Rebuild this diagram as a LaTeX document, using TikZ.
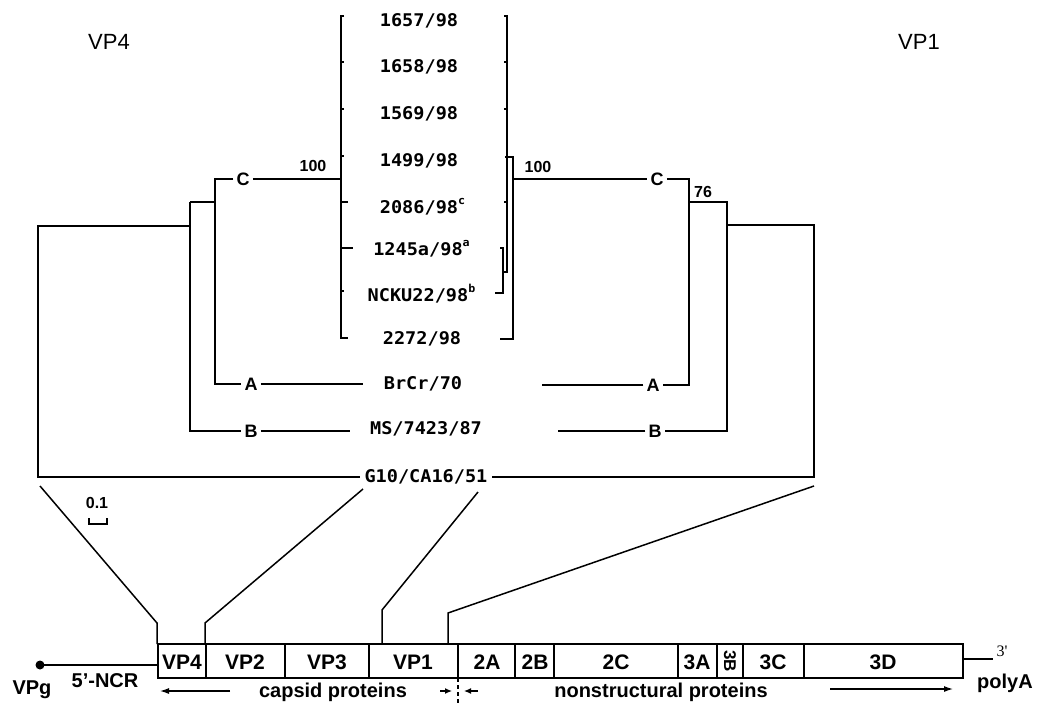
\documentclass[tikz,border=0pt]{standalone}
\usepackage{fontspec}
\setmainfont{Liberation Sans}
\newfontfamily\monofont[FakeStretch=1.06]{DejaVu Sans Mono}
\newfontfamily\seriffont{Liberation Serif}
\usetikzlibrary{arrows.meta}
\newcommand{\supx}[1]{\rlap{\raisebox{0.5em}{\fontsize{11}{11}\selectfont\bfseries #1}}}
\begin{document}
\begin{tikzpicture}[x=1pt,y=-1pt, line width=1.5pt,
  strain/.style={font=\monofont\bfseries\fontsize{17.5}{19}\selectfont, inner sep=0pt},
  clade/.style={font=\bfseries\fontsize{18}{20}\selectfont, inner sep=2.5pt},
  boot/.style={font=\bfseries\fontsize{16}{18}\selectfont, inner sep=0pt},
  gene/.style={font=\bfseries\fontsize{21}{23}\selectfont, inner sep=0pt},
  glabel/.style={font=\bfseries\fontsize{20}{22}\selectfont, inner sep=0pt},
  title/.style={font=\fontsize{22}{24}\selectfont, inner sep=0pt},
  arr/.style={-{Latex[length=9pt,width=6pt]}, line width=1.2pt},
  thin/.style={line width=1.2pt}]
\useasboundingbox[fill=white] (0,0) rectangle (1042,705);

% titles
\node[title] (tVP4) at (109,42) {VP4};
\node[title] (tVP1) at (919,42) {VP1};

% strain labels
\node[strain] (s1) at (419,21) {1657/98};
\node[strain] (s2) at (419,67) {1658/98};
\node[strain] (s3) at (419,114) {1569/98};
\node[strain] (s4) at (419,161) {1499/98};
\node[strain] (s5) at (419,207) {2086/98\supx{c}};
\node[strain] (s6) at (418,249) {1245a/98\supx{a}};
\node[strain] (s7) at (418,294) {NCKU22/98\supx{b}};
\node[strain] (s8) at (422,339) {2272/98};
\node[strain] (s9) at (423,384) {BrCr/70};
\node[strain] (s10) at (426,429) {MS/7423/87};
\node[strain, inner sep=4pt] (g10) at (426,477) {G10/CA16/51};

% clade letters
\node[clade] (Cl) at (243,179) {C};
\node[clade] (Al) at (251,384) {A};
\node[clade] (Bl) at (251,431) {B};
\node[clade] (Cr) at (657,179) {C};
\node[clade] (Ar) at (653,385) {A};
\node[clade] (Br) at (655,431) {B};

% bootstrap values
\node[boot] (b1) at (313,166) {100};
\node[boot] (b2) at (538,167) {100};
\node[boot] (b3) at (703,192) {76};

% left tree (VP4)
\draw (g10.west) -- (38,477) -- (38,226) -- (190,226);
\draw (190,202) -- (190,431) -- (Bl.west);
\draw (190,202) -- (215,202);
\draw (Cl.west) -- (215,179) -- (215,384) -- (Al.west);
\draw (Cl.east) -- (341,179);
\draw (Al.east) -- (363,384);
\draw (Bl.east) -- (350,431);
\draw (344,16) -- (341,16) -- (341,338) -- (348,338);
\foreach \yy in {62,109,156,291} \draw[thin] (341,\yy) -- (344,\yy);
\draw (341,202) -- (348,202);
\draw (341,248) -- (353,248);

% right tree (VP1)
\draw (504,16) -- (507,16) -- (507,272);
\foreach \yy in {62,109,202} \draw[thin] (504,\yy) -- (507,\yy);
\draw[thin] (505,157) -- (513,157) -- (513,339) -- (500,339);
\draw[thin] (500,248) -- (503,248) -- (503,293) -- (495,293);
\draw[thin] (503,272) -- (508,272);
\draw (513,179) -- (Cr.west);
\draw (Cr.east) -- (689,179) -- (689,385) -- (Ar.east);
\draw (Ar.west) -- (542,385);
\draw (689,202) -- (727,202) -- (727,431) -- (Br.east);
\draw (Br.west) -- (558,431);
\draw (727,225) -- (814,225) -- (814,477) -- (g10.east);

% scale bar
\node[boot] (sc) at (97,503) {0.1};
\draw[thin] (89,518) -- (89,524) -- (107,524) -- (107,518);

% genome
\draw[line width=1.7pt] (158,644) rectangle (963,678);
\foreach \xx in {206,285,369,515,554,678,717,743,804}
  \draw[line width=1.4pt] (\xx,644) -- (\xx,678);
\draw[line width=1.4pt] (458,644) -- (458,678);
\draw[line width=1.7pt, dash pattern=on 4pt off 3pt] (458,678) -- (458,703);

\node[gene] (gVP4) at (182,662) {VP4};
\node[gene] (gVP2) at (245,662) {VP2};
\node[gene] (gVP3) at (327,662) {VP3};
\node[gene] (gVP1) at (413,662) {VP1};
\node[gene] (g2A) at (487,662) {2A};
\node[gene] (g2B) at (535,662) {2B};
\node[gene] (g2C) at (616,662) {2C};
\node[gene] (g3A) at (697,662) {3A};
\node[gene, rotate=-90, font=\bfseries\fontsize{17}{18}\selectfont] (g3B) at (730,661) {3B};
\node[gene] (g3C) at (773,662) {3C};
\node[gene] (g3D) at (883,662) {3D};

% expansion lines
\draw (40,486) -- (157,623) -- (157,644);
\draw (363,489) -- (205,623) -- (205,644);
\draw (478,492) -- (382,610) -- (382,644);
\draw (814,486) -- (448,613) -- (448,644);

% ends
\fill (40,665) circle (4.5pt);
\coordinate (vpgdot) at (40,665);
\draw (vpgdot) -- (158,665);
\draw (963,659) -- (993,659);
\node[glabel] (vpg) at (32,690) {VPg};
\node[glabel] (ncr) at (105,681) {5'-NCR};
\node[glabel] (polya) at (1005,683) {polyA};
\node[font=\seriffont\fontsize{16}{16}\selectfont, inner sep=0pt] (three) at (1002,651) {3'};

% protein labels and arrows
\node[glabel] (caps) at (333,692) {capsid proteins};
\node[glabel] (nons) at (661,692) {nonstructural proteins};
\draw[arr] (230,691) -- (160,691);
\draw[arr] (830,689) -- (953,689);
\draw[-{Latex[length=7pt,width=6pt]}, line width=1.2pt] (440,691) -- (452,691);
\draw[-{Latex[length=7pt,width=6pt]}, line width=1.2pt] (478,691) -- (464,691);
\end{tikzpicture}
\end{document}
